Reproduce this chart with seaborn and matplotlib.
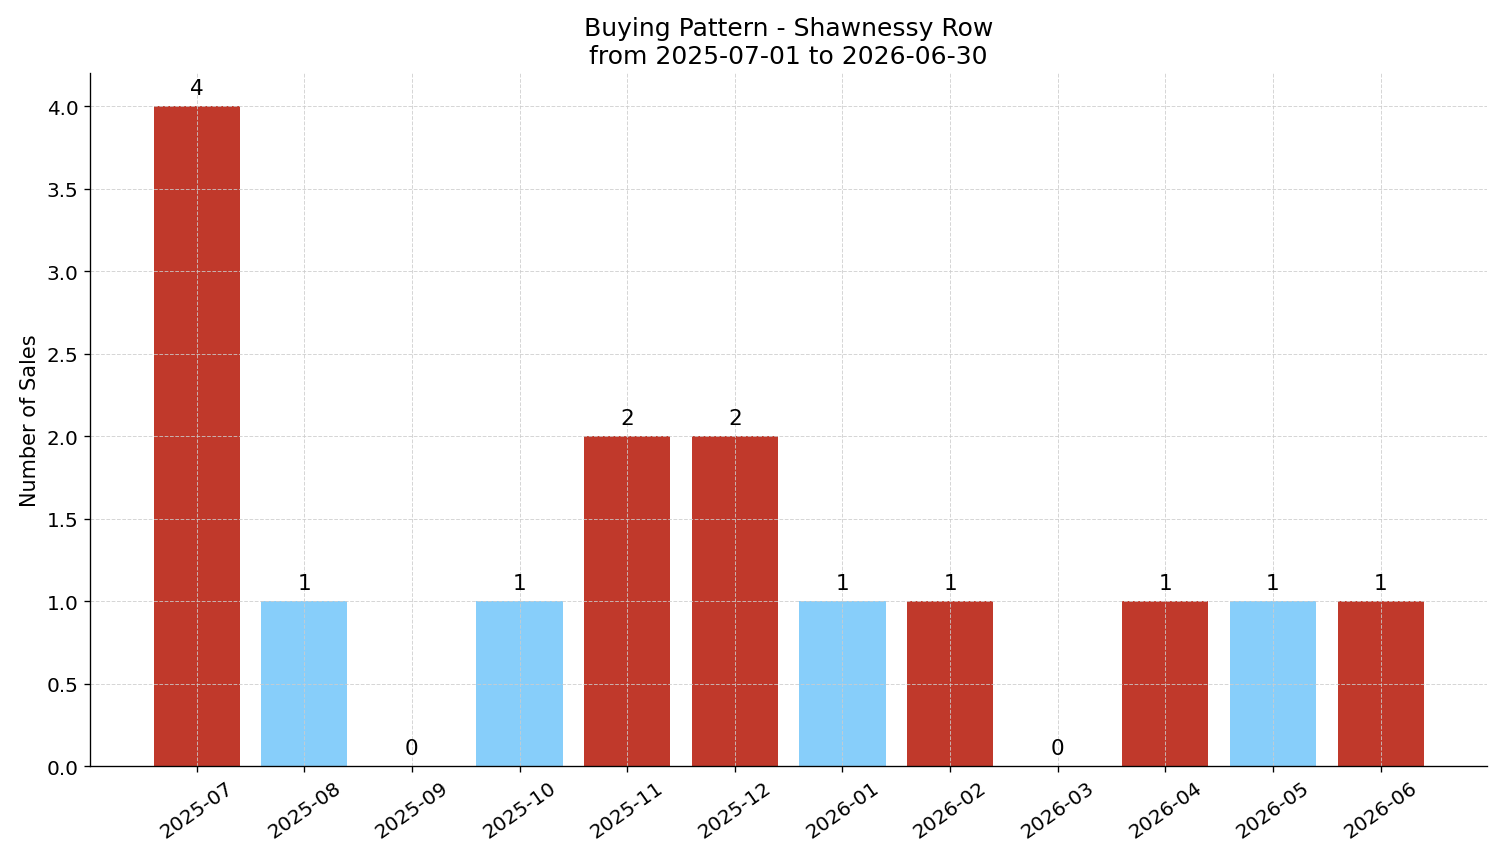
import matplotlib
matplotlib.use("Agg")
import matplotlib.pyplot as plt
import seaborn as sns
import pandas as pd

# monthly sales counts
months = ['2025-07', '2025-08', '2025-09', '2025-10', '2025-11', '2025-12',
          '2026-01', '2026-02', '2026-03', '2026-04', '2026-05', '2026-06']
sales = [4, 1, 0, 1, 2, 2, 1, 1, 0, 1, 1, 1]
bar_group = ['red', 'blue', 'blue', 'blue', 'red', 'red',
             'blue', 'red', 'red', 'red', 'blue', 'red']

palette = {'red': '#c0392b', 'blue': '#87cefa'}
colors = {m: palette[g] for m, g in zip(months, bar_group)}

df = pd.DataFrame({'month': months, 'sales': sales})

fig, ax = plt.subplots(figsize=(12.51, 7.19), dpi=120)
fig.subplots_adjust(left=0.06, right=0.9907, top=0.914, bottom=0.111)

sns.barplot(data=df, x='month', y='sales', hue='month', palette=colors,
            legend=False, width=0.8, saturation=1, ax=ax)

for i, v in enumerate(sales):
    ax.annotate(str(v), (i, v), xytext=(0, 5), textcoords='offset points',
                ha='center', va='bottom', fontsize=13)

ax.set_xlim(-0.99, 11.99)
ax.set_ylim(0, 4.2)
ax.grid(True, linestyle='--', linewidth=0.6, color='#cccccc', alpha=0.8)
ax.set_axisbelow('line')
ax.spines['top'].set_visible(False)
ax.spines['right'].set_visible(False)
ax.set_xlabel('')
ax.set_ylabel('Number of Sales', fontsize=12.5)
ax.set_title('Buying Pattern - Shawnessy Row\nfrom 2025-07-01 to 2026-06-30', fontsize=15)
ax.tick_params(axis='x', labelrotation=35, labelsize=12)
ax.tick_params(axis='y', labelsize=12)
ax.yaxis.set_major_formatter(matplotlib.ticker.FormatStrFormatter('%.1f'))

fig.savefig('out.png', dpi=120)
